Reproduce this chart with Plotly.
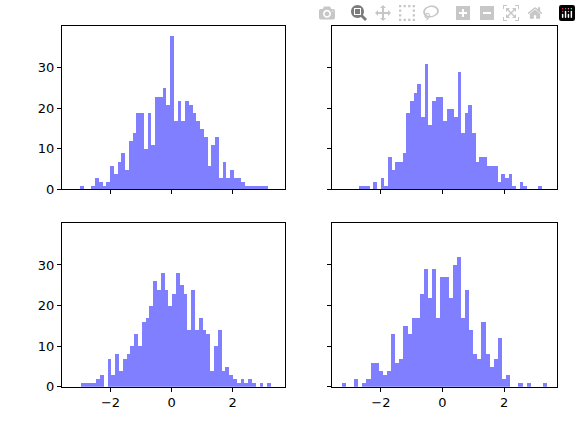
import numpy as np
import plotly.graph_objects as go

counts_tl = [1,0,0,1,3,2,1,2,6,4,7,9,5,12,14,19,19,10,19,11,23,23,25,21,38,17,22,17,22,21,19,17,15,13,6,11,13,3,7,3,5,3,3,2,1,1,1,1,1,1]
counts_tr = [1,1,1,0,2,0,3,1,8,5,7,7,9,19,22,24,26,18,31,16,22,23,23,17,20,20,18,29,14,19,21,14,7,8,8,6,6,6,2,4,3,4,1,0,2,1,0,0,0,1]
counts_bl = [1,1,1,1,2,3,0,7,3,8,4,7,8,10,13,10,16,17,20,26,24,28,24,20,23,28,25,23,14,24,14,17,14,13,4,10,14,4,5,3,2,1,2,1,2,1,0,1,0,1]
counts_br = [1,0,0,2,0,1,2,6,6,4,3,4,13,6,7,15,13,17,17,23,29,22,29,17,27,27,22,30,32,17,24,14,8,7,16,8,5,7,12,2,3,0,0,1,0,1,0,0,0,1]
ranges = [(-3.00, 3.15), (-2.72, 3.22), (-2.97, 3.26), (-3.27, 3.40)]
all_counts = [counts_tl, counts_tr, counts_bl, counts_br]

W, H = 581, 430
xdom = [[62/W, 285/W], [332/W, 557/W]]
ydom = [[1-193/H, 1-26/H], [1-394/H, 1-227/H]]

fig = go.Figure()
for i, (c, (lo, hi)) in enumerate(zip(all_counts, ranges)):
    edges = np.linspace(lo, hi, len(c)+1)
    centers = (edges[:-1]+edges[1:])/2
    n = i+1
    fig.add_trace(go.Bar(x=centers, y=c, width=edges[1]-edges[0],
                         marker=dict(color="rgba(0,0,255,0.5)", line=dict(width=0)),
                         xaxis=f"x{n}" if n > 1 else "x", yaxis=f"y{n}" if n > 1 else "y",
                         showlegend=False))

for i in range(4):
    n = i+1
    row, col = divmod(i, 2)
    ax = dict(domain=xdom[col], range=[-3.59, 3.72], tickvals=[-2, 0, 2],
              ticktext=["−2", "0", "2"] if row == 1 else ["", "", ""],
              showgrid=False, zeroline=False, showline=True, linecolor="black", linewidth=1,
              mirror=True, ticks="outside", ticklen=4, tickcolor="black",
              anchor=f"y{n}" if n > 1 else "y")
    ay = dict(domain=ydom[row], range=[0, 40.4], tickvals=[0, 10, 20, 30],
              ticktext=["0", "10", "20", "30"] if col == 0 else ["", "", "", ""],
              showgrid=False, zeroline=False, showline=True, linecolor="black", linewidth=1,
              mirror=True, ticks="outside", ticklen=4, tickcolor="black",
              anchor=f"x{n}" if n > 1 else "x")
    fig.update_layout(**{f"xaxis{n if n > 1 else ''}": ax, f"yaxis{n if n > 1 else ''}": ay})

fig.update_layout(width=W, height=H, margin=dict(l=0, r=0, t=0, b=0),
                  plot_bgcolor="white", paper_bgcolor="white", bargap=0,
                  font=dict(family="DejaVu Sans", size=13, color="black"))
fig.write_html("out.html")

with open("out.html", encoding="utf-8") as f:
    html = f.read()
html = html.replace("<head>", "<head><style>html,body{margin:0;padding:0;overflow:hidden}</style>", 1)
with open("out.html", "w", encoding="utf-8") as f:
    f.write(html)
